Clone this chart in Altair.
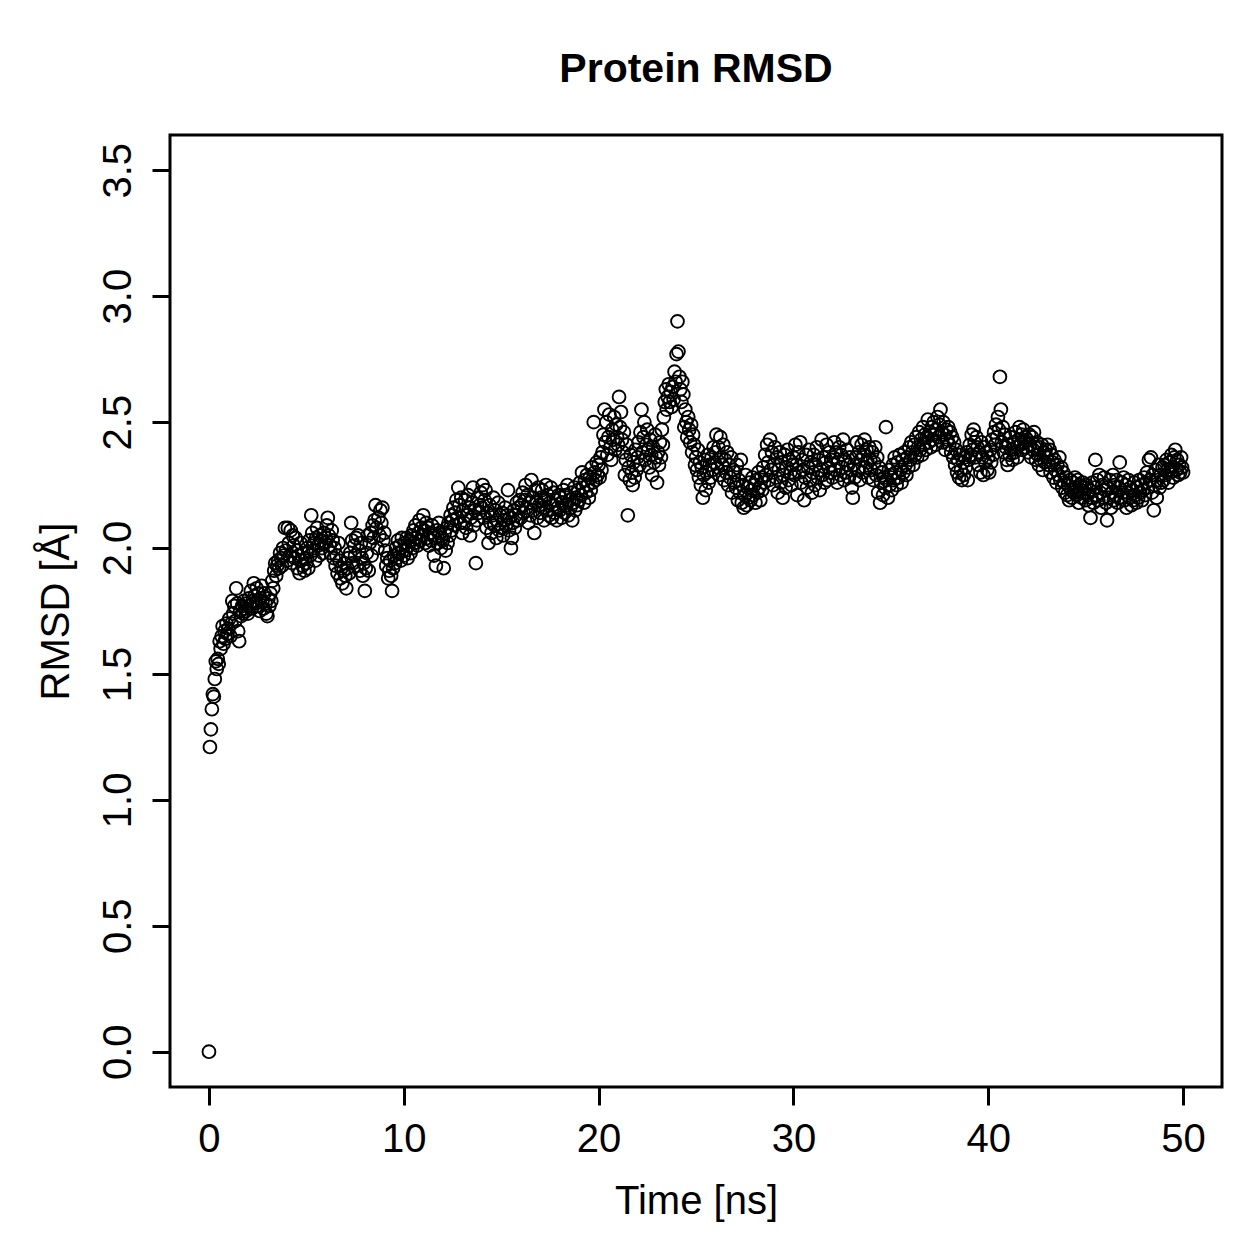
import altair as alt
import pandas as pd

# RMSD values, 20 frames per ns (0.05 ns spacing), rows = 1 ns
rmsd_rows = [
    [0.00, 1.21, 1.28, 1.36, 1.42, 1.41, 1.48, 1.55, 1.52, 1.56, 1.54, 1.63, 1.60, 1.65, 1.69, 1.62, 1.67, 1.64, 1.70, 1.66],
    [1.68, 1.72, 1.65, 1.70, 1.79, 1.74, 1.77, 1.71, 1.84, 1.78, 1.67, 1.63, 1.75, 1.73, 1.77, 1.74, 1.79, 1.76, 1.75, 1.78],
    [1.74, 1.80, 1.77, 1.83, 1.76, 1.79, 1.86, 1.81, 1.78, 1.84, 1.77, 1.82, 1.75, 1.80, 1.85, 1.79, 1.76, 1.82, 1.78, 1.74],
    [1.73, 1.80, 1.77, 1.82, 1.79, 1.87, 1.84, 1.91, 1.94, 1.89, 1.93, 1.95, 1.92, 1.98, 1.96, 1.93, 2.00, 1.97, 2.08, 1.99],
    [1.95, 2.08, 2.02, 1.97, 2.07, 1.94, 2.05, 2.01, 1.96, 2.04, 1.99, 1.92, 1.97, 1.90, 2.02, 1.95, 1.93, 1.98, 1.91, 1.96],
    [1.94, 2.00, 1.92, 2.03, 1.97, 2.13, 2.06, 1.99, 2.02, 1.95, 2.04, 2.08, 2.01, 1.97, 2.05, 2.03, 2.00, 1.98, 2.06, 2.02],
    [2.04, 2.09, 2.12, 2.05, 2.01, 1.98, 2.07, 2.03, 1.96, 2.00, 1.93, 1.97, 1.90, 2.02, 1.95, 1.88, 1.92, 1.86, 1.91, 1.94],
    [1.89, 1.84, 1.92, 1.96, 1.90, 1.98, 2.10, 2.03, 1.94, 2.01, 1.97, 2.04, 1.93, 2.05, 1.99, 1.91, 2.02, 1.96, 1.89, 1.94],
    [1.83, 1.92, 1.98, 2.05, 1.91, 2.02, 2.06, 1.97, 2.09, 2.04, 2.11, 2.17, 2.08, 2.00, 2.12, 2.05, 2.15, 2.10, 2.16, 2.03],
    [2.06, 1.99, 1.93, 1.96, 1.88, 1.91, 1.95, 1.89, 1.83, 1.92, 1.97, 1.94, 2.00, 1.96, 2.03, 1.98, 2.01, 1.95, 2.04, 1.99],
    [1.97, 2.02, 1.99, 2.04, 1.96, 2.01, 2.03, 1.98, 2.05, 2.00, 2.07, 2.02, 2.09, 2.04, 2.01, 2.06, 2.11, 2.03, 2.08, 2.05],
    [2.13, 2.07, 2.02, 2.10, 2.04, 2.08, 2.01, 2.06, 2.03, 2.09, 2.05, 1.97, 2.04, 1.93, 2.07, 2.02, 2.10, 2.06, 2.00, 2.04],
    [2.03, 1.92, 2.06, 1.99, 2.08, 2.02, 2.10, 2.05, 2.13, 2.07, 2.11, 2.16, 2.09, 2.14, 2.19, 2.12, 2.24, 2.17, 2.10, 2.20],
    [2.06, 2.15, 2.10, 2.19, 2.08, 2.13, 2.21, 2.16, 2.05, 2.12, 2.18, 2.24, 2.09, 2.15, 1.94, 2.11, 2.20, 2.14, 2.17, 2.22],
    [2.16, 2.25, 2.12, 2.19, 2.23, 2.08, 2.14, 2.02, 2.17, 2.10, 2.06, 2.13, 2.20, 2.09, 2.15, 2.04, 2.11, 2.18, 2.07, 2.13],
    [2.08, 2.14, 2.05, 2.11, 2.16, 2.09, 2.13, 2.23, 2.07, 2.12, 2.00, 2.04, 2.10, 2.15, 2.08, 2.13, 2.18, 2.11, 2.16, 2.19],
    [2.12, 2.17, 2.22, 2.14, 2.19, 2.25, 2.16, 2.21, 2.10, 2.18, 2.13, 2.27, 2.20, 2.15, 2.06, 2.23, 2.18, 2.12, 2.24, 2.17],
    [2.14, 2.20, 2.23, 2.16, 2.11, 2.19, 2.25, 2.15, 2.21, 2.13, 2.18, 2.24, 2.12, 2.17, 2.22, 2.14, 2.19, 2.11, 2.16, 2.21],
    [2.15, 2.20, 2.12, 2.18, 2.23, 2.14, 2.21, 2.17, 2.25, 2.13, 2.19, 2.16, 2.22, 2.11, 2.18, 2.24, 2.15, 2.20, 2.17, 2.23],
    [2.19, 2.26, 2.21, 2.30, 2.24, 2.18, 2.27, 2.22, 2.29, 2.25, 2.20, 2.28, 2.23, 2.32, 2.26, 2.50, 2.30, 2.27, 2.34, 2.29],
    [2.33, 2.28, 2.36, 2.31, 2.38, 2.45, 2.55, 2.42, 2.50, 2.37, 2.44, 2.53, 2.40, 2.35, 2.47, 2.43, 2.52, 2.39, 2.49, 2.44],
    [2.41, 2.60, 2.48, 2.54, 2.43, 2.38, 2.46, 2.29, 2.35, 2.41, 2.13, 2.32, 2.27, 2.37, 2.30, 2.25, 2.34, 2.28, 2.39, 2.31],
    [2.36, 2.42, 2.33, 2.46, 2.55, 2.38, 2.44, 2.50, 2.35, 2.41, 2.47, 2.39, 2.32, 2.43, 2.37, 2.29, 2.40, 2.34, 2.45, 2.36],
    [2.26, 2.38, 2.33, 2.42, 2.36, 2.47, 2.41, 2.52, 2.58, 2.63, 2.55, 2.60, 2.65, 2.58, 2.62, 2.56, 2.64, 2.59, 2.70, 2.66],
    [2.77, 2.90, 2.78, 2.68, 2.63, 2.58, 2.66, 2.61, 2.48, 2.55, 2.50, 2.44, 2.52, 2.47, 2.42, 2.49, 2.38, 2.45, 2.41, 2.33],
    [2.36, 2.31, 2.39, 2.28, 2.34, 2.25, 2.32, 2.20, 2.29, 2.35, 2.23, 2.30, 2.37, 2.26, 2.33, 2.28, 2.36, 2.31, 2.40, 2.34],
    [2.38, 2.45, 2.32, 2.40, 2.29, 2.44, 2.36, 2.33, 2.41, 2.27, 2.35, 2.30, 2.38, 2.25, 2.33, 2.28, 2.36, 2.22, 2.31, 2.26],
    [2.30, 2.24, 2.33, 2.19, 2.27, 2.22, 2.35, 2.18, 2.25, 2.16, 2.21, 2.29, 2.17, 2.24, 2.20, 2.26, 2.19, 2.23, 2.28, 2.21],
    [2.25, 2.18, 2.27, 2.22, 2.30, 2.24, 2.19, 2.28, 2.23, 2.32, 2.26, 2.37, 2.29, 2.41, 2.34, 2.27, 2.43, 2.31, 2.38, 2.25],
    [2.33, 2.40, 2.28, 2.36, 2.22, 2.31, 2.38, 2.26, 2.34, 2.20, 2.29, 2.37, 2.24, 2.32, 2.39, 2.27, 2.35, 2.30, 2.25, 2.33],
    [2.36, 2.29, 2.41, 2.33, 2.21, 2.38, 2.30, 2.42, 2.26, 2.35, 2.31, 2.19, 2.28, 2.37, 2.24, 2.32, 2.39, 2.27, 2.34, 2.22],
    [2.30, 2.37, 2.25, 2.33, 2.40, 2.28, 2.35, 2.23, 2.31, 2.43, 2.29, 2.36, 2.26, 2.34, 2.41, 2.27, 2.32, 2.38, 2.30, 2.35],
    [2.28, 2.36, 2.42, 2.31, 2.38, 2.26, 2.34, 2.40, 2.29, 2.37, 2.32, 2.43, 2.27, 2.35, 2.30, 2.39, 2.33, 2.28, 2.36, 2.31],
    [2.24, 2.20, 2.33, 2.28, 2.36, 2.42, 2.31, 2.38, 2.27, 2.35, 2.41, 2.30, 2.37, 2.43, 2.32, 2.39, 2.34, 2.28, 2.40, 2.35],
    [2.31, 2.38, 2.27, 2.34, 2.40, 2.29, 2.36, 2.22, 2.32, 2.18, 2.26, 2.30, 2.21, 2.28, 2.24, 2.48, 2.27, 2.20, 2.31, 2.25],
    [2.29, 2.23, 2.33, 2.27, 2.36, 2.30, 2.25, 2.34, 2.28, 2.37, 2.31, 2.26, 2.35, 2.30, 2.38, 2.33, 2.29, 2.36, 2.32, 2.40],
    [2.35, 2.42, 2.38, 2.33, 2.41, 2.37, 2.44, 2.36, 2.40, 2.46, 2.39, 2.43, 2.37, 2.48, 2.41, 2.45, 2.39, 2.44, 2.51, 2.42],
    [2.46, 2.40, 2.48, 2.43, 2.50, 2.45, 2.41, 2.47, 2.52, 2.44, 2.49, 2.55, 2.46, 2.42, 2.50, 2.45, 2.39, 2.47, 2.43, 2.48],
    [2.41, 2.46, 2.38, 2.44, 2.36, 2.42, 2.33, 2.39, 2.30, 2.35, 2.28, 2.37, 2.31, 2.27, 2.34, 2.29, 2.36, 2.32, 2.38, 2.27],
    [2.35, 2.41, 2.37, 2.45, 2.39, 2.47, 2.42, 2.36, 2.44, 2.40, 2.33, 2.38, 2.30, 2.42, 2.36, 2.29, 2.40, 2.34, 2.38, 2.31],
    [2.36, 2.30, 2.39, 2.34, 2.43, 2.37, 2.46, 2.41, 2.49, 2.44, 2.52, 2.47, 2.68, 2.55, 2.42, 2.48, 2.38, 2.45, 2.40, 2.35],
    [2.33, 2.41, 2.37, 2.44, 2.39, 2.35, 2.42, 2.38, 2.46, 2.40, 2.36, 2.43, 2.48, 2.41, 2.45, 2.39, 2.47, 2.42, 2.44, 2.40],
    [2.43, 2.38, 2.45, 2.41, 2.36, 2.44, 2.39, 2.46, 2.40, 2.35, 2.42, 2.37, 2.33, 2.40, 2.35, 2.41, 2.31, 2.38, 2.34, 2.39],
    [2.36, 2.41, 2.33, 2.39, 2.30, 2.37, 2.34, 2.28, 2.35, 2.31, 2.26, 2.33, 2.29, 2.36, 2.27, 2.32, 2.24, 2.30, 2.26, 2.22],
    [2.28, 2.21, 2.25, 2.19, 2.27, 2.23, 2.20, 2.26, 2.22, 2.28, 2.24, 2.21, 2.27, 2.18, 2.25, 2.23, 2.20, 2.26, 2.22, 2.24],
    [2.19, 2.25, 2.21, 2.17, 2.23, 2.12, 2.20, 2.26, 2.18, 2.24, 2.35, 2.21, 2.27, 2.19, 2.29, 2.22, 2.16, 2.25, 2.20, 2.28],
    [2.23, 2.18, 2.11, 2.24, 2.20, 2.27, 2.16, 2.22, 2.29, 2.19, 2.25, 2.21, 2.27, 2.18, 2.24, 2.34, 2.20, 2.26, 2.22, 2.28],
    [2.19, 2.25, 2.16, 2.22, 2.27, 2.20, 2.24, 2.17, 2.23, 2.19, 2.26, 2.21, 2.18, 2.24, 2.20, 2.27, 2.22, 2.25, 2.19, 2.23],
    [2.28, 2.21, 2.26, 2.30, 2.24, 2.35, 2.27, 2.36, 2.22, 2.29, 2.15, 2.25, 2.31, 2.20, 2.27, 2.33, 2.24, 2.29, 2.26, 2.32],
    [2.27, 2.33, 2.29, 2.35, 2.31, 2.26, 2.34, 2.30, 2.37, 2.32, 2.28, 2.36, 2.39, 2.31, 2.35, 2.29, 2.33, 2.30, 2.36, 2.32],
    [2.30],
]

x_ticks = [0, 10, 20, 30, 40, 50]
y_ticks = [0.0, 0.5, 1.0, 1.5, 2.0, 2.5, 3.0, 3.5]

rmsd = [v for row in rmsd_rows for v in row]
time_ns = [round(i * 0.05, 2) for i in range(len(rmsd))]
df = pd.DataFrame({"time": time_ns, "rmsd": rmsd})

FONT = "Liberation Sans"

chart = (
    alt.Chart(df)
    .mark_point(shape="circle", filled=False, color="black", strokeWidth=1.9, size=165, opacity=1)
    .encode(
        x=alt.X(
            "time:Q",
            scale=alt.Scale(domain=[-2, 52], nice=False, zero=False),
            axis=alt.Axis(
                values=x_ticks, format="d", title="Time [ns]", grid=False, domain=False,
                tickColor="black", tickWidth=3, tickSize=18, labelPadding=14,
                labelFont=FONT, labelFontSize=40, labelColor="black",
                titleFont=FONT, titleFontSize=40, titleFontWeight="normal", titleColor="black",
                titlePadding=22,
            ),
        ),
        y=alt.Y(
            "rmsd:Q",
            scale=alt.Scale(domain=[-0.14, 3.64], nice=False, zero=False),
            axis=alt.Axis(
                values=y_ticks, format=".1f", title="RMSD [Å]", grid=False, domain=False,
                tickColor="black", tickWidth=3, tickSize=18, labelPadding=14,
                labelAngle=270, labelAlign="center", labelBaseline="bottom",
                labelFont=FONT, labelFontSize=40, labelColor="black",
                titleFont=FONT, titleFontSize=40, titleFontWeight="normal", titleColor="black",
                titlePadding=22,
            ),
        ),
    )
    .properties(
        width=1052,
        height=952,
        title=alt.TitleParams(
            "Protein RMSD", font=FONT, fontSize=41, fontWeight="bold", color="black",
            anchor="middle", offset=44,
        ),
        autosize=alt.AutoSizeParams(type="none"),
        padding={"left": 170, "top": 135, "right": 37, "bottom": 172},
    )
    .configure(background="white")
    .configure_view(stroke="black", strokeWidth=3)
)

chart.save("out.html", embed_options={"renderer": "svg", "actions": False})
